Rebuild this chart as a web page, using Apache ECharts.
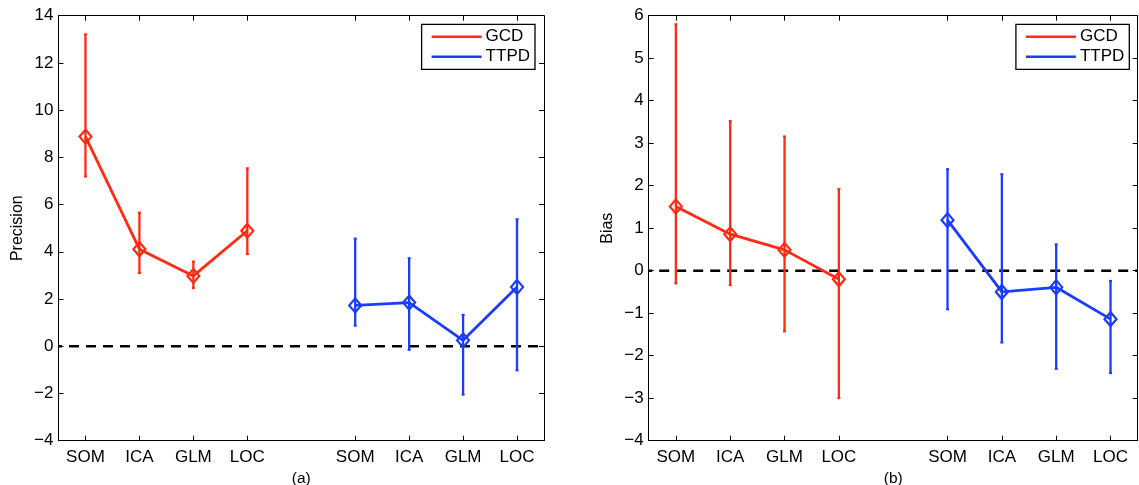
<!DOCTYPE html>
<html>
<head>
<meta charset="utf-8">
<script src="https://cdn.jsdelivr.net/npm/echarts@6/dist/echarts.min.js"></script>
<style>
  html, body { margin: 0; padding: 0; background: #fff; }
  #chart { width: 1139px; height: 485px; }
</style>
</head>
<body>
<div id="chart"></div>
<script>
// Method labels and their slots on the x axis (slot 5 is the gap between groups)
var methods = ['SOM', 'ICA', 'GLM', 'LOC'];
var gcdSlots = [1, 2, 3, 4];
var ttpdSlots = [6, 7, 8, 9];

// Panel (a): precision
var precGcdMean = [8.88, 4.11, 2.98, 4.89];
var precGcdLow  = [7.19, 3.10, 2.46, 3.90];
var precGcdHigh = [13.21, 5.66, 3.59, 7.54];
var precTtpdMean = [1.73, 1.85, 0.25, 2.51];
var precTtpdLow  = [0.87, -0.15, -2.05, -1.02];
var precTtpdHigh = [4.56, 3.73, 1.33, 5.38];

// Panel (b): bias
var biasGcdMean = [1.51, 0.86, 0.49, -0.20];
var biasGcdLow  = [-0.30, -0.34, -1.43, -3.00];
var biasGcdHigh = [5.80, 3.52, 3.16, 1.92];
var biasTtpdMean = [1.19, -0.50, -0.39, -1.14];
var biasTtpdLow  = [-0.91, -1.69, -2.31, -2.41];
var biasTtpdHigh = [2.39, 2.27, 0.62, -0.24];

// Y axis ranges
var precRange = { min: -4, max: 14, interval: 2 };
var biasRange = { min: -4, max: 6, interval: 1 };

var RED = '#ff2a12';
var BLUE = '#1a3cff';
var FONT = '"Liberation Sans", Arial, Helvetica, sans-serif';

var allSlots = gcdSlots.concat(ttpdSlots);
var allLabels = methods.concat(methods);

function slotLabel(v) {
  var i = allSlots.indexOf(Math.round(v));
  return i >= 0 ? allLabels[i] : '';
}
function minusLabel(v) {
  return String(v).replace('-', '\u2212');
}

function pairs(xs, ys) {
  return xs.map(function (x, i) { return [x, ys[i]]; });
}
function triples(xs, lo, hi) {
  return xs.map(function (x, i) { return [x, lo[i], hi[i]]; });
}

function errorBars(name, gi, xs, lo, hi, color) {
  return {
    name: name,
    type: 'custom',
    xAxisIndex: gi * 2,
    yAxisIndex: gi * 2,
    data: triples(xs, lo, hi),
    z: 3,
    silent: true,
    renderItem: function (params, api) {
      var p1 = api.coord([api.value(0), api.value(1)]);
      var p2 = api.coord([api.value(0), api.value(2)]);
      return {
        type: 'group',
        children: [
          { type: 'line', shape: { x1: p1[0], y1: p1[1], x2: p2[0], y2: p2[1] },
            style: { stroke: color, lineWidth: 2.3 } },
          { type: 'line', shape: { x1: p1[0] - 1.5, y1: p1[1], x2: p1[0] + 1.5, y2: p1[1] },
            style: { stroke: color, lineWidth: 2 } },
          { type: 'line', shape: { x1: p2[0] - 1.5, y1: p2[1], x2: p2[0] + 1.5, y2: p2[1] },
            style: { stroke: color, lineWidth: 2 } }
        ]
      };
    }
  };
}

function meanLine(name, gi, xs, ys, color) {
  return {
    name: name,
    type: 'line',
    xAxisIndex: gi * 2,
    yAxisIndex: gi * 2,
    data: pairs(xs, ys),
    symbol: 'diamond',
    symbolSize: [12, 14],
    showAllSymbol: true,
    lineStyle: { color: color, width: 2.8 },
    itemStyle: { color: 'none', borderColor: color, borderWidth: 2.2 },
    z: 4,
    silent: true,
    animation: false
  };
}

function zeroLine(gi) {
  return {
    type: 'line',
    xAxisIndex: gi * 2,
    yAxisIndex: gi * 2,
    data: [[0.5, 0], [9.5, 0]],
    symbol: 'none',
    lineStyle: { color: '#000', width: 2.5, type: [10, 7], dashOffset: 6.5 },
    z: 2,
    silent: true
  };
}

var grids = [
  { left: 58.5, top: 15.7, width: 485.5, height: 425, outerBoundsMode: 'none', containLabel: false },
  { left: 648.7, top: 15.7, width: 489, height: 425, outerBoundsMode: 'none', containLabel: false }
];

function xAxes(gi, title) {
  return [
    {
      type: 'value', gridIndex: gi, min: 0.5, max: 9.5, position: 'bottom',
      name: title, nameLocation: 'middle', nameGap: 29,
      nameTextStyle: { color: '#000', fontSize: 15.5, fontFamily: FONT },
      axisLine: { show: true, onZero: false, lineStyle: { color: '#000', width: 1 } },
      axisTick: { show: true, inside: true, length: 5, customValues: allSlots, lineStyle: { color: '#000' } },
      axisLabel: { show: true, customValues: allSlots, formatter: slotLabel, color: '#000',
                   fontSize: 17, fontFamily: FONT, margin: 8 },
      splitLine: { show: false }
    },
    {
      type: 'value', gridIndex: gi, min: 0.5, max: 9.5, position: 'top',
      axisLine: { show: true, onZero: false, lineStyle: { color: '#000', width: 1 } },
      axisTick: { show: true, inside: true, length: 5, customValues: allSlots, lineStyle: { color: '#000' } },
      axisLabel: { show: false },
      splitLine: { show: false }
    }
  ];
}

function yAxes(gi, range, title) {
  return [
    {
      type: 'value', gridIndex: gi, min: range.min, max: range.max, interval: range.interval,
      position: 'left',
      name: title, nameLocation: 'middle', nameGap: 33, nameRotate: 90,
      nameTextStyle: { color: '#000', fontSize: 16, fontFamily: FONT },
      axisLine: { show: true, onZero: false, lineStyle: { color: '#000', width: 1 } },
      axisTick: { show: true, inside: true, length: 5, lineStyle: { color: '#000' } },
      axisLabel: { formatter: minusLabel, color: '#000', fontSize: 17, fontFamily: FONT, margin: 5 },
      splitLine: { show: false }
    },
    {
      type: 'value', gridIndex: gi, min: range.min, max: range.max, interval: range.interval,
      position: 'right',
      axisLine: { show: true, onZero: false, lineStyle: { color: '#000', width: 1 } },
      axisTick: { show: true, inside: true, length: 5, lineStyle: { color: '#000' } },
      axisLabel: { show: false },
      splitLine: { show: false }
    }
  ];
}

function legendBox(right) {
  return {
    orient: 'vertical',
    right: right,
    top: 24.3,
    padding: [4, 5, 4, 10],
    itemGap: 3,
    itemWidth: 50,
    itemHeight: 2.5,
    borderColor: '#000',
    borderWidth: 1.3,
    backgroundColor: '#fff',
    selectedMode: false,
    textStyle: { color: '#000', fontSize: 17, fontFamily: FONT, padding: [0, 0, 0, -1] },
    data: [
      { name: 'GCD', icon: 'rect', itemStyle: { color: RED } },
      { name: 'TTPD', icon: 'rect', itemStyle: { color: BLUE } }
    ]
  };
}

var chart = echarts.init(document.getElementById('chart'), null, { renderer: 'canvas' });
chart.setOption({
  animation: false,
  backgroundColor: '#fff',
  grid: grids,
  xAxis: xAxes(0, '(a)').concat(xAxes(1, '(b)')),
  yAxis: yAxes(0, precRange, 'Precision').concat(yAxes(1, biasRange, 'Bias')),
  legend: [legendBox(1139 - 535), legendBox(1139 - 1129.3)],
  series: [
    zeroLine(0),
    errorBars('GCD', 0, gcdSlots, precGcdLow, precGcdHigh, RED),
    errorBars('TTPD', 0, ttpdSlots, precTtpdLow, precTtpdHigh, BLUE),
    meanLine('GCD', 0, gcdSlots, precGcdMean, RED),
    meanLine('TTPD', 0, ttpdSlots, precTtpdMean, BLUE),
    zeroLine(1),
    errorBars('GCD', 1, gcdSlots, biasGcdLow, biasGcdHigh, RED),
    errorBars('TTPD', 1, ttpdSlots, biasTtpdLow, biasTtpdHigh, BLUE),
    meanLine('GCD', 1, gcdSlots, biasGcdMean, RED),
    meanLine('TTPD', 1, ttpdSlots, biasTtpdMean, BLUE)
  ]
});
</script>
</body>
</html>
